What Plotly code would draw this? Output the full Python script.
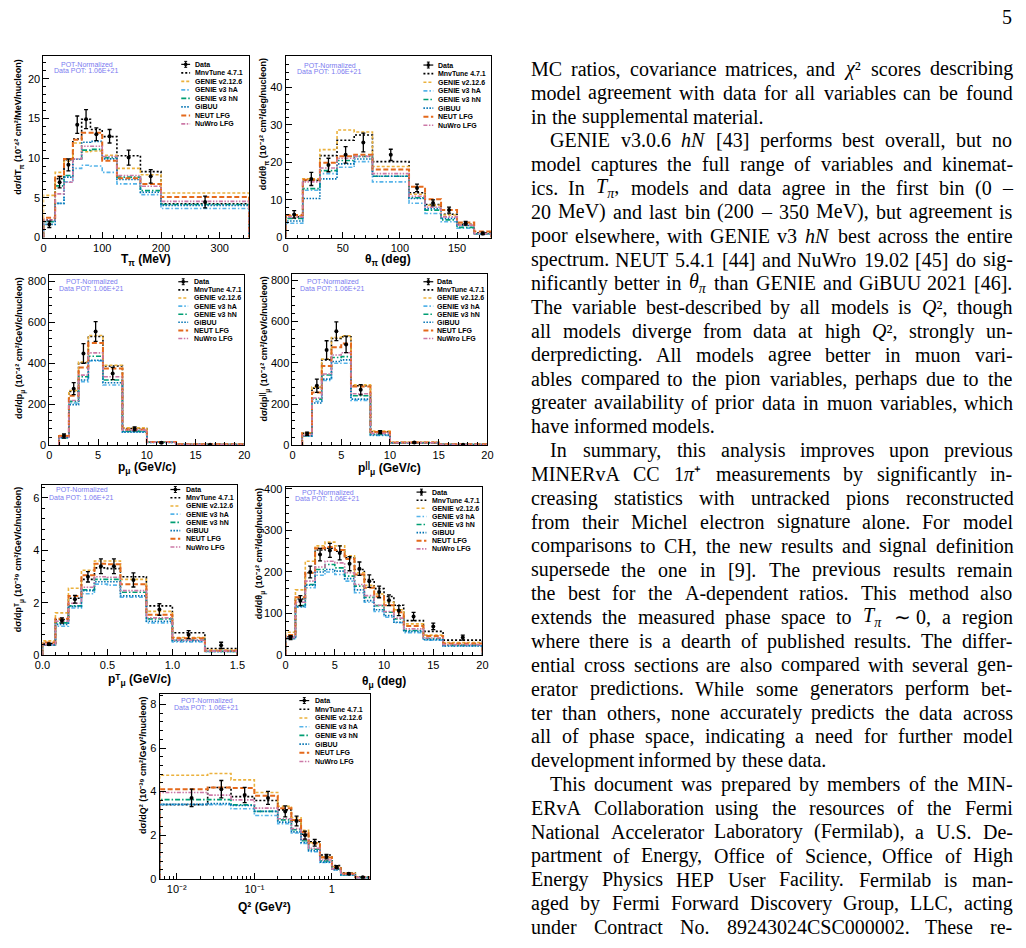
import re
import math
import plotly.graph_objects as go

W, H = 1026, 948

MODELS = ["MnvTune 4.7.1", "GENIE v2.12.6", "GENIE v3 hA", "GENIE v3 hN",
          "GiBUU", "NEUT LFG", "NuWro LFG"]

# ---------------- T_pi ----------------
tpi_edges = [0, 20, 35, 50, 65, 80, 100, 125, 165, 200, 350]
tpi_data = [1.66, 6.96, 9.15, 14.2, 14.9, 13.0, 12.75, 10.06, 7.7, 4.47]
tpi_err = [0.4, 0.7, 0.75, 1.1, 1.2, 0.8, 0.85, 0.95, 0.85, 0.75]
tpi_mnv = [2.2, 7.4, 9.8, 12.4, 14.9, 13.6, 12.7, 10.3, 8.3, 4.25]
tpi_g2 = [5.3, 8.2, 9.6, 11.9, 10.8, 10.9, 10.35, 8.7, 7.9, 5.6]
tpi_ha = [2.0, 4.3, 7.0, 8.7, 9.1, 9.0, 8.2, 6.75, 5.4, 3.65]
tpi_hn = [2.0, 6.5, 7.8, 9.9, 11.0, 11.1, 10.06, 7.6, 5.9, 4.15]
tpi_gibuu = [1.65, 4.3, 7.6, 9.85, 12.0, 12.1, 9.9, 7.3, 5.7, 4.05]
tpi_neut = [2.5, 7.7, 9.9, 12.3, 13.2, 13.2, 9.65, 7.45, 6.75, 5.1]
tpi_nuwro = [2.2, 5.5, 6.95, 9.9, 11.5, 11.5, 10.2, 7.8, 6.45, 4.55]

# ---------------- theta_pi ----------------
thpi_edges = [0, 15, 30, 45, 60, 76, 108, 122, 136, 150, 165, 180]
thpi_data = [6.15, 15.6, 19.3, 22.0, 25.3, 22.0, 13.2, 9.2, 7.3, 3.8, 1.1]
thpi_err = [1.0, 1.75, 1.8, 2.2, 2.5, 1.5, 1.0, 0.8, 0.8, 0.5, 0.3]
thpi_mnv = [5.5, 15.2, 21.8, 25.9, 27.3, 20.2, 11.9, 8.8, 6.2, 3.5, 1.2]
thpi_g2 = [5.8, 15.6, 23.4, 28.6, 28.1, 18.9, 11.5, 8.6, 6.0, 3.5, 1.0]
thpi_ha = [3.8, 12.6, 17.0, 18.7, 20.2, 14.8, 9.1, 6.4, 4.2, 2.5, 0.9]
thpi_hn = [5.1, 13.0, 17.8, 20.5, 21.6, 16.3, 10.6, 7.3, 4.7, 2.7, 1.0]
thpi_gibuu = [4.4, 10.4, 15.6, 19.6, 20.9, 16.3, 10.4, 7.7, 5.1, 3.2, 1.0]
thpi_neut = [6.0, 15.4, 19.9, 21.6, 22.0, 18.1, 13.5, 10.2, 7.3, 4.0, 1.6]
thpi_nuwro = [5.5, 14.8, 18.5, 21.1, 21.6, 17.0, 11.0, 8.1, 5.5, 3.3, 1.0]

# ---------------- p_mu ----------------
pmu_edges = [1, 2, 3, 4, 5.5, 7.5, 10, 13, 20]
pmu_data = [45, 276, 447, 554, 350, 80, 13, 3]
pmu_err = [10, 29, 48, 48, 30, 10, 3, 1]
pmu_mnv = [45, 262, 402, 530, 386, 82, 16, 5]
pmu_g2 = [48, 267, 406, 535, 390, 85, 17, 5]
pmu_ha = [37, 206, 310, 411, 294, 66, 14, 4]
pmu_hn = [37, 214, 334, 434, 318, 69, 15, 4]
pmu_gibuu = [37, 198, 318, 414, 305, 64, 14, 4]
pmu_neut = [45, 241, 379, 498, 374, 77, 16, 5]
pmu_nuwro = [40, 218, 342, 450, 334, 74, 15, 4]

# ---------------- p_parallel ----------------
ppar_edges = [1, 2, 3, 4, 5, 6, 8, 10, 15, 20]
ppar_data = [56, 289, 462, 553, 489, 269, 64, 13, 3]
ppar_err = [8, 32, 45, 45, 40, 25, 7, 3, 1]
ppar_mnv = [58, 277, 414, 518, 526, 289, 66, 13, 5]
ppar_g2 = [61, 282, 418, 523, 531, 293, 69, 14, 5]
ppar_ha = [45, 213, 314, 398, 398, 218, 48, 11, 4]
ppar_hn = [45, 224, 341, 426, 430, 240, 53, 12, 4]
ppar_gibuu = [45, 205, 321, 406, 414, 224, 50, 11, 4]
ppar_neut = [58, 256, 385, 475, 494, 285, 64, 13, 5]
ppar_nuwro = [48, 229, 346, 438, 449, 250, 58, 12, 4]

# ---------------- p_T ----------------
pt_edges = [0, 0.1, 0.2, 0.3, 0.4, 0.5, 0.6, 0.8, 1.0, 1.25, 1.5]
pt_data = [0.41, 1.32, 2.13, 2.99, 3.39, 3.39, 2.87, 1.74, 0.78, 0.37]
pt_err = [0.04, 0.1, 0.15, 0.2, 0.28, 0.28, 0.27, 0.22, 0.15, 0.12]
pt_mnv = [0.44, 1.36, 2.17, 2.89, 3.33, 3.30, 2.99, 1.88, 0.85, 0.25]
pt_g2 = [0.54, 1.61, 2.55, 3.24, 3.59, 3.59, 2.89, 1.67, 0.67, 0.19]
pt_ha = [0.39, 1.10, 1.80, 2.34, 2.71, 2.67, 2.21, 1.23, 0.50, 0.14]
pt_hn = [0.39, 1.23, 1.88, 2.49, 2.89, 2.89, 2.40, 1.38, 0.57, 0.14]
pt_gibuu = [0.39, 1.17, 1.86, 2.46, 2.80, 2.80, 2.26, 1.29, 0.54, 0.14]
pt_neut = [0.48, 1.39, 2.26, 3.05, 3.49, 3.47, 2.70, 1.54, 0.64, 0.16]
pt_nuwro = [0.40, 1.29, 1.98, 2.59, 2.99, 2.97, 2.46, 1.42, 0.57, 0.15]

# ---------------- theta_mu ----------------
thmu_edges = [0, 1, 2, 3, 4, 5, 6, 7, 8, 9, 10, 11, 12, 14, 16, 20]
thmu_data = [42, 131, 200, 242, 252, 246, 220, 208, 178, 152, 132, 107, 93, 69, 42]
thmu_err = [5, 12, 14, 15, 17, 17, 17, 16, 15, 14, 13, 12, 10, 8, 6]
thmu_mnv = [44, 135, 198, 253, 257, 250, 234, 206, 182, 160, 141, 120, 83, 57, 36]
thmu_g2 = [55, 157, 226, 263, 272, 263, 239, 198, 168, 147, 127, 109, 75, 48, 30]
thmu_ha = [40, 115, 162, 192, 200, 194, 178, 150, 127, 105, 91, 78, 54, 36, 22]
thmu_hn = [40, 119, 170, 206, 218, 210, 190, 166, 139, 119, 103, 87, 59, 40, 24]
thmu_gibuu = [40, 117, 168, 200, 206, 202, 184, 157, 131, 109, 95, 79, 57, 37, 22]
thmu_neut = [48, 139, 198, 257, 260, 253, 231, 194, 162, 141, 120, 103, 70, 46, 28]
thmu_nuwro = [42, 127, 178, 212, 226, 222, 198, 170, 143, 120, 105, 89, 63, 41, 25]

# ---------------- Q^2 ----------------
q2_edges = [0.006, 0.025, 0.05, 0.1, 0.2, 0.3, 0.4, 0.5, 0.7, 1.0, 1.3, 2.0, 3.0]
q2_data = [3.71, 4.11, 3.84, 3.71, 3.09, 2.65, 2.0, 1.65, 1.01, 0.53, 0.23, 0.06]
q2_err = [0.4, 0.4, 0.35, 0.3, 0.25, 0.22, 0.18, 0.15, 0.1, 0.07, 0.04, 0.02]
q2_mnv = [3.40, 4.19, 3.77, 3.59, 3.16, 2.65, 2.04, 1.69, 1.09, 0.60, 0.26, 0.08]
q2_g2 = [4.75, 4.83, 4.54, 3.96, 3.33, 2.80, 2.22, 1.65, 1.01, 0.56, 0.25, 0.06]
q2_ha = [3.40, 3.40, 3.21, 2.90, 2.53, 2.10, 1.62, 1.24, 0.74, 0.40, 0.17, 0.05]
q2_hn = [3.63, 3.63, 3.39, 3.09, 2.70, 2.25, 1.74, 1.35, 0.82, 0.44, 0.18, 0.05]
q2_gibuu = [3.42, 3.45, 3.36, 3.09, 2.60, 2.15, 1.66, 1.29, 0.76, 0.41, 0.17, 0.05]
q2_neut = [4.11, 4.19, 4.16, 3.81, 3.24, 2.70, 2.15, 1.62, 0.97, 0.53, 0.23, 0.06]
q2_nuwro = [3.96, 3.84, 3.62, 3.24, 2.75, 2.30, 1.80, 1.39, 0.86, 0.45, 0.20, 0.05]

q2_ticks = [0.01, 0.1, 1]
q2_ticktext = ["10\u207b\u00b2", "10\u207b\u00b9", "1"]

# ---------------- styles ----------------
COLORS = ["#000000", "#EBB13C", "#56B4E9", "#009E73", "#0072B2", "#E4691B", "#CC79A7"]
DASHES = ["2px,2px", "3px,2px", "4px,2px,1.5px,2px", "5px,2px,1.5px,2px",
          "1.5px,1.5px", "5px,2.5px", "4px,1.5px,1.5px,1.5px,1.5px,1.5px"]
WIDTHS = [1.6, 1.6, 1.6, 1.6, 1.6, 2.0, 1.6]
POT_COLOR = "#7b7bf0"
SANS = "Liberation Sans"
SERIF = "Liberation Serif"


def lo(txt, size, shift):
    """small lowered / raised text via a styled span (no zero-width helpers)"""
    return '<span style="font-size:%gpx;baseline-shift:%gpx">%s</span>' % (size, shift, txt)


YS, YSH = 6.5, -2.5     # y-title subscript size/shift
XS, XSH = 8.5, -3.0     # x-title subscript size/shift
UPS, UPSH = 6.5, 3.5    # y-title superscript ('||')
XUPS, XUPSH = 8.5, 4.5  # x-title superscript ('||')

PANELS = [
    dict(edges=tpi_edges, data=tpi_data, err=tpi_err,
         mc=[tpi_mnv, tpi_g2, tpi_ha, tpi_hn, tpi_gibuu, tpi_neut, tpi_nuwro],
         frame=(36, 245, 53, 236), xr=[0, 350], yr=[0, 22.8], xd=100, xm=20, yd=5, ym=1,
         leg=(176, 185, 188, 61, 8.6), pot=(80, 61, 67.5), yt=(11.5, 53), xty=259,
         ytitle="d\u03c3/dT" + lo("\u03c0", YS, YSH) + " (10\u207b\u2074\u00b2 cm\u00b2/MeV/nucleon)",
         xtitle="T" + lo("\u03c0", XS, XSH) + " (MeV)"),
    dict(edges=thpi_edges, data=thpi_data, err=thpi_err,
         mc=[thpi_mnv, thpi_g2, thpi_ha, thpi_hn, thpi_gibuu, thpi_neut, thpi_nuwro],
         frame=(282, 491, 53, 236), xr=[0, 180], yr=[0, 48.2], xd=50, xm=10, yd=10, ym=2,
         leg=(422, 432, 435, 61.7, 8.7), pot=(326.7, 61.7, 68.3), yt=(261, 53), xty=259,
         ytitle="d\u03c3/d\u03b8" + lo("\u03c0", YS, YSH) + " (10\u207b\u2074\u00b2 cm\u00b2/deg/nucleon)",
         xtitle="\u03b8" + lo("\u03c0", XS, XSH) + " (deg)"),
    dict(edges=pmu_edges, data=pmu_data, err=pmu_err,
         mc=[pmu_mnv, pmu_g2, pmu_ha, pmu_hn, pmu_gibuu, pmu_neut, pmu_nuwro],
         frame=(42, 240, 274, 446), xr=[0, 20], yr=[0, 829], xd=5, xm=1, yd=200, ym=40,
         leg=(173, 183, 186.7, 280.7, 8.2), pot=(85, 280.7, 287.7), yt=(12, 274), xty=469,
         ytitle="d\u03c3/dp" + lo("\u03bc", YS, YSH) + " (10\u207b\u2074\u00b2 cm\u00b2/GeV/c/nucleon)",
         xtitle="p" + lo("\u03bc", XS, XSH) + " (GeV/c)"),
    dict(edges=ppar_edges, data=ppar_data, err=ppar_err,
         mc=[ppar_mnv, ppar_g2, ppar_ha, ppar_hn, ppar_gibuu, ppar_neut, ppar_nuwro],
         frame=(289, 487, 273, 446), xr=[0, 20], yr=[0, 830], xd=5, xm=1, yd=200, ym=40,
         leg=(422, 432, 434, 280.7, 8.2), pot=(330, 280.7, 287.7), yt=(260, 273), xty=469,
         ytitle="d\u03c3/dp" + lo("||", UPS, UPSH) + lo("\u03bc", YS, YSH)
                + " (10\u207b\u2074\u00b2 cm\u00b2/GeV/c/nucleon)",
         xtitle="p" + lo("||", XUPS, XUPSH) + lo("\u03bc", XS, XSH) + " (GeV/c)"),
    dict(edges=pt_edges, data=pt_data, err=pt_err,
         mc=[pt_mnv, pt_g2, pt_ha, pt_hn, pt_gibuu, pt_neut, pt_nuwro],
         frame=(35, 233, 486, 658), xr=[0, 1.5], yr=[0, 6.5], xd=0.5, xm=0.1, yd=2, ym=0.4,
         xfmt=".1f",
         leg=(165, 175, 178.3, 490.7, 8.3), pot=(75, 490.7, 498.3), yt=(12, 486), xty=683,
         ytitle="d\u03c3/dp\u1d40" + lo("\u03bc", YS, YSH) + " (10\u207b\u00b3\u2079 cm\u00b2/GeV/c/nucleon)",
         xtitle="p\u1d40" + lo("\u03bc", XS, XSH) + " (GeV/c)"),
    dict(edges=thmu_edges, data=thmu_data, err=thmu_err,
         mc=[thmu_mnv, thmu_g2, thmu_ha, thmu_hn, thmu_gibuu, thmu_neut, thmu_nuwro],
         frame=(282, 482, 488, 658), xr=[0, 20], yr=[0, 405], xd=5, xm=1, yd=100, ym=20,
         leg=(415, 425, 428.3, 493.3, 8.2), pot=(325, 493.3, 499.3), yt=(256, 488), xty=685,
         ytitle="d\u03c3/d\u03b8" + lo("\u03bc", YS, YSH) + " (10\u207b\u2074\u00b2 cm\u00b2/deg/nucleon)",
         xtitle="\u03b8" + lo("\u03bc", XS, XSH) + " (deg)"),
    dict(edges=q2_edges, data=q2_data, err=q2_err,
         mc=[q2_mnv, q2_g2, q2_ha, q2_hn, q2_gibuu, q2_neut, q2_nuwro],
         frame=(154, 368, 697, 884), xr=[0.006, 3.12], yr=[0, 8.5], yd=2, ym=0.4, log=True,
         leg=(296, 306, 310, 704, 8.8), pot=(201.7, 704, 710.7), yt=(137, 698), xty=913,
         ytitle="d\u03c3/dQ\u00b2 (10\u207b\u00b3\u2079 cm\u00b2/GeV\u00b2/nucleon)",
         xtitle="Q\u00b2 (GeV\u00b2)"),
]

# ---------------- text column ----------------
TS, TSH = 14, -5   # text-column subscript size/shift
PI_SUB = lo("<i>\u03c0</i>", TS, TSH)
TEXT_LINES = [
    ("MC ratios, covariance matrices, and <i>\u03c7</i>\u00b2 scores describing", 0, 1),
    ("model agreement with data for all variables can be found", 0, 1),
    ("in the supplemental material.", 0, 0),
    ("GENIE v3.0.6 <i>hN</i> [43] performs best overall, but no", 1, 1),
    ("model captures the full range of variables and kinemat-", 0, 1),
    ("ics. In <i>T</i>" + PI_SUB + ", models and data agree in the first bin (0 \u2013", 0, 1),
    ("20 MeV) and last bin (200 \u2013 350 MeV), but agreement is", 0, 1),
    ("poor elsewhere, with GENIE v3 <i>hN</i> best across the entire", 0, 1),
    ("spectrum. NEUT 5.4.1 [44] and NuWro 19.02 [45] do sig-", 0, 1),
    ("nificantly better in <i>\u03b8</i>" + PI_SUB + " than GENIE and GiBUU 2021 [46].", 0, 1),
    ("The variable best-described by all models is <i>Q</i>\u00b2, though", 0, 1),
    ("all models diverge from data at high <i>Q</i>\u00b2, strongly un-", 0, 1),
    ("derpredicting. All models agree better in muon vari-", 0, 1),
    ("ables compared to the pion variables, perhaps due to the", 0, 1),
    ("greater availability of prior data in muon variables, which", 0, 1),
    ("have informed models.", 0, 0),
    ("In summary, this analysis improves upon previous", 1, 1),
    ("MINERvA CC 1<i>\u03c0</i>\u207a measurements by significantly in-", 0, 1),
    ("creasing statistics with untracked pions reconstructed", 0, 1),
    ("from their Michel electron signature alone. For model", 0, 1),
    ("comparisons to CH, the new results and signal definition", 0, 1),
    ("supersede the one in [9]. The previous results remain", 0, 1),
    ("the best for the A-dependent ratios. This method also", 0, 1),
    ("extends the measured phase space to <i>T</i>" + PI_SUB + " \u223c 0, a region", 0, 1),
    ("where there is a dearth of published results. The differ-", 0, 1),
    ("ential cross sections are also compared with several gen-", 0, 1),
    ("erator predictions. While some generators perform bet-", 0, 1),
    ("ter than others, none accurately predicts the data across", 0, 1),
    ("all of phase space, indicating a need for further model", 0, 1),
    ("development informed by these data.", 0, 0),
    ("This document was prepared by members of the MIN-", 1, 1),
    ("ERvA Collaboration using the resources of the Fermi", 0, 1),
    ("National Accelerator Laboratory (Fermilab), a U.S. De-", 0, 1),
    ("partment of Energy, Office of Science, Office of High", 0, 1),
    ("Energy Physics HEP User Facility. Fermilab is man-", 0, 1),
    ("aged by Fermi Forward Discovery Group, LLC, acting", 0, 1),
    ("under Contract No. 89243024CSC000002. These re-", 0, 1),
]
PAGE_NUMBER = "5"

# approximate Times advance widths (1/1000 em)
CW = {' ': 250, 'a': 444, 'b': 500, 'c': 444, 'd': 500, 'e': 444, 'f': 333, 'g': 500,
      'h': 500, 'i': 278, 'j': 278, 'k': 500, 'l': 278, 'm': 778, 'n': 500, 'o': 500,
      'p': 500, 'q': 500, 'r': 333, 's': 389, 't': 278, 'u': 500, 'v': 500, 'w': 722,
      'x': 500, 'y': 500, 'z': 444, 'A': 722, 'B': 667, 'C': 667, 'D': 722, 'E': 611,
      'F': 556, 'G': 722, 'H': 722, 'I': 333, 'J': 389, 'K': 722, 'L': 611, 'M': 889,
      'N': 722, 'O': 722, 'P': 556, 'Q': 722, 'R': 667, 'S': 556, 'T': 611, 'U': 722,
      'V': 722, 'W': 944, 'X': 722, 'Y': 722, 'Z': 611, ',': 250, '.': 250, '-': 333,
      '(': 333, ')': 333, '[': 333, ']': 333, ':': 278, ';': 278, '\u2013': 500,
      '\u223c': 541, '+': 564, '/': 278, '\u03c7': 550, '\u03c0': 550, '\u03b8': 520,
      '\u00b2': 300, '\u207a': 350}


def word_width(html, fs):
    w = 0.0
    scale = 1.0
    for tok in re.split(r'(<[^>]+>)', html):
        if tok.startswith('<'):
            name = tok.strip('<>/').split()[0].lower()
            if name == 'span':
                scale = 1.0 if tok.startswith('</') else 0.7
            continue
        for ch in tok:
            w += CW.get(ch, 500) * scale
    return w * fs / 1000.0


def split_words(html):
    # split on spaces that are outside tags
    out, cur, depth = [], "", 0
    for ch in html:
        if ch == '<':
            depth += 1
        elif ch == '>':
            depth -= 1
        if ch == ' ' and depth == 0:
            if cur:
                out.append(cur)
            cur = ""
        else:
            cur += ch
    if cur:
        out.append(cur)
    return out


def fx(x):
    return x / W


def fy(y):
    return 1 - y / H


fig = go.Figure()
layout = dict(width=W, height=H, autosize=False,
              margin=dict(l=0, r=0, t=0, b=0, pad=0),
              paper_bgcolor="white", plot_bgcolor="white", showlegend=False,
              font=dict(family=SANS, color="black"))
shapes = []
annotations = []

for i, p in enumerate(PANELS, start=1):
    sx = "" if i == 1 else str(i)
    xid, yid = "x" + sx, "y" + sx
    l, r, t, b = p["frame"]
    common = dict(showline=True, mirror=True, linecolor="black", linewidth=1,
                  ticks="inside", ticklen=6, tickwidth=1, tickcolor="black",
                  showgrid=False, zeroline=False, fixedrange=True,
                  tickfont=dict(family=SANS, size=11, color="black"))
    xa = dict(common, domain=[fx(l), fx(r)], anchor=yid)
    ya = dict(common, domain=[fy(b), fy(t)], anchor=xid, range=p["yr"],
              dtick=p["yd"], tick0=0,
              minor=dict(ticks="inside", ticklen=3, tickcolor="black",
                         dtick=p["ym"], tick0=0))
    if p.get("log"):
        minor_vals = [k * 10.0 ** e for e in (-3, -2, -1, 0) for k in range(2, 10)]
        xa.update(type="log",
                  range=[math.log10(p["xr"][0]), math.log10(p["xr"][1])],
                  tickmode="array", tickvals=q2_ticks, ticktext=q2_ticktext,
                  minor=dict(ticks="inside", ticklen=3, tickcolor="black",
                             tickmode="array", tickvals=minor_vals))
    else:
        xa.update(range=p["xr"], dtick=p["xd"], tick0=0,
                  minor=dict(ticks="inside", ticklen=3, tickcolor="black",
                             dtick=p["xm"], tick0=0))
        if "xfmt" in p:
            xa["tickformat"] = p["xfmt"]
    layout["xaxis" + sx] = xa
    layout["yaxis" + sx] = ya

    edges = p["edges"]
    for m, vals in enumerate(p["mc"]):
        xs = [edges[0]] + list(edges) + [edges[-1]]
        ys = [0] + list(vals) + [vals[-1], 0]
        fig.add_trace(go.Scatter(
            x=xs, y=ys, mode="lines", xaxis=xid, yaxis=yid, name=MODELS[m],
            line=dict(shape="hv", color=COLORS[m], width=WIDTHS[m], dash=DASHES[m]),
            hoverinfo="skip"))
    mids = [(edges[k] + edges[k + 1]) / 2 for k in range(len(edges) - 1)]
    fig.add_trace(go.Scatter(
        x=mids, y=p["data"], mode="markers", xaxis=xid, yaxis=yid, name="Data",
        marker=dict(symbol="circle", size=4, color="black"),
        error_y=dict(type="data", array=p["err"], color="black", thickness=1.3, width=2)))

    # compact legend like a ROOT TLegend
    s0, s1, tx, ry0, rdy = p["leg"]
    cx = (s0 + s1) / 2
    names = ["Data"] + MODELS
    for k, nm in enumerate(names):
        yy = ry0 + k * rdy
        if k == 0:
            shapes.append(dict(type="line", xref="paper", yref="paper",
                               x0=fx(s0), x1=fx(s1), y0=fy(yy), y1=fy(yy),
                               line=dict(color="black", width=1.2)))
            shapes.append(dict(type="line", xref="paper", yref="paper",
                               x0=fx(cx), x1=fx(cx), y0=fy(yy - 3), y1=fy(yy + 3),
                               line=dict(color="black", width=1.2)))
            for dy in (-3, 3):
                shapes.append(dict(type="line", xref="paper", yref="paper",
                                   x0=fx(cx - 1.5), x1=fx(cx + 1.5), y0=fy(yy + dy), y1=fy(yy + dy),
                                   line=dict(color="black", width=1)))
            shapes.append(dict(type="rect", xref="paper", yref="paper",
                               x0=fx(cx - 1.5), x1=fx(cx + 1.5), y0=fy(yy - 1.5), y1=fy(yy + 1.5),
                               fillcolor="black", line=dict(width=0)))
        else:
            shapes.append(dict(type="line", xref="paper", yref="paper",
                               x0=fx(s0), x1=fx(s1), y0=fy(yy), y1=fy(yy),
                               line=dict(color=COLORS[k - 1], width=WIDTHS[k - 1],
                                         dash=DASHES[k - 1])))
        annotations.append(dict(text="<b>" + nm + "</b>", x=fx(tx), y=fy(yy),
                                xref="paper", yref="paper", xanchor="left", yanchor="middle",
                                showarrow=False, font=dict(family=SANS, size=7, color="black")))

    pcx, py0, py1 = p["pot"]
    annotations.append(dict(text="POT-Normalized", x=fx(pcx), y=fy(py0), xref="paper", yref="paper",
                            xanchor="center", yanchor="middle", showarrow=False,
                            font=dict(family=SANS, size=7, color=POT_COLOR)))
    annotations.append(dict(text="Data POT: 1.06E+21", x=fx(pcx), y=fy(py1), xref="paper", yref="paper",
                            xanchor="center", yanchor="middle", showarrow=False,
                            font=dict(family=SANS, size=7, color=POT_COLOR)))
    ytx, yty = p["yt"]
    annotations.append(dict(text="<b>" + p["ytitle"] + "</b>", x=fx(ytx), y=fy(yty),
                            xref="paper", yref="paper", xanchor="center", yanchor="top",
                            textangle=-90, showarrow=False,
                            font=dict(family=SANS, size=9, color="black")))
    annotations.append(dict(text="<b>" + p["xtitle"] + "</b>", x=fx((l + r) / 2), y=fy(p["xty"]),
                            xref="paper", yref="paper", xanchor="center", yanchor="middle",
                            showarrow=False, font=dict(family=SANS, size=12, color="black")))

# ---------------- text column (justified) ----------------
FS = 20
LEFT, RIGHT, INDENT = 530, 1019, 20
Y0, DY = 65.5, 24.1
for k, (line, indent, justify) in enumerate(TEXT_LINES):
    words = split_words(line)
    left = LEFT + (INDENT if indent else 0)
    widths = [word_width(w, FS) for w in words]
    if justify and len(words) > 1:
        gap = (RIGHT - left - sum(widths)) / (len(words) - 1)
    else:
        gap = 0.3 * FS
    xcur = left
    yy = Y0 + k * DY
    for w, wd in zip(words, widths):
        annotations.append(dict(text=w, x=fx(xcur), y=fy(yy), xref="paper", yref="paper",
                                xanchor="left", yanchor="middle", showarrow=False,
                                borderpad=0,
                                font=dict(family=SERIF, size=FS, color="black")))
        xcur += wd + gap

annotations.append(dict(text=PAGE_NUMBER, x=fx(1015), y=fy(13), xref="paper", yref="paper",
                        xanchor="center", yanchor="middle", showarrow=False,
                        font=dict(family=SERIF, size=FS, color="black")))

layout["shapes"] = shapes
layout["annotations"] = annotations
fig.update_layout(**layout)
fig.write_html("out.html")
